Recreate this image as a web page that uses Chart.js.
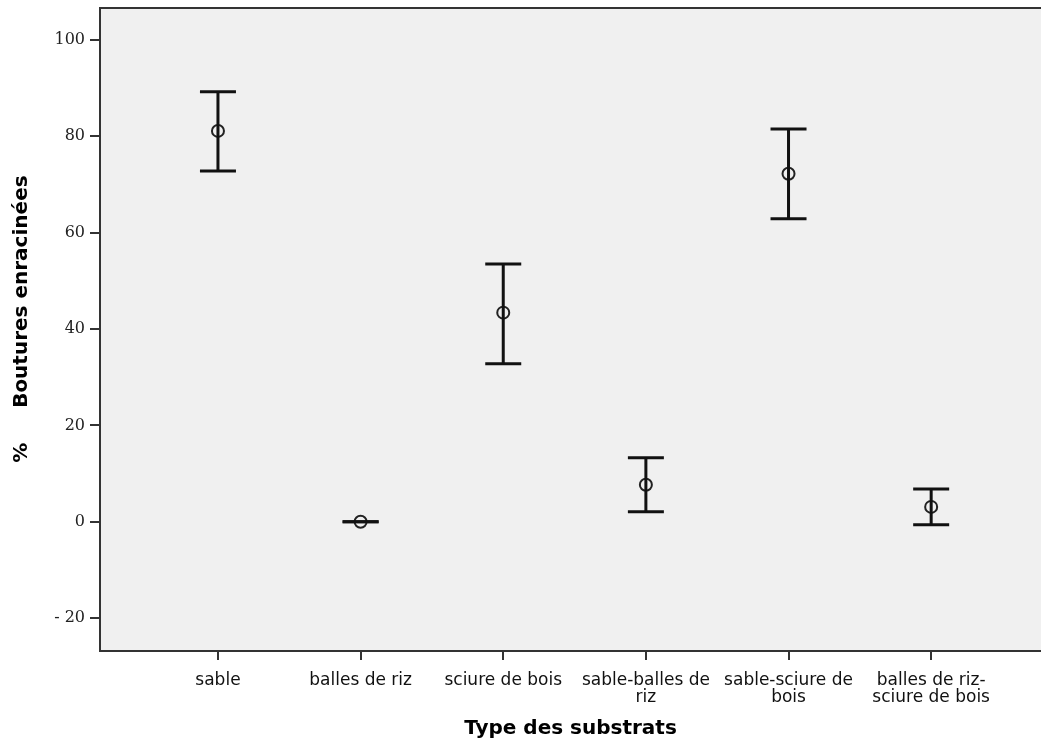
<!DOCTYPE html>
<html>
<head>
<meta charset="utf-8">
<script src="https://cdn.jsdelivr.net/npm/chart.js@4"></script>
<style>
    html, body { margin: 0; padding: 0; background: #ffffff; }
    #wrap { width: 1041px; height: 745px; }
</style>
</head>
<body>
<div id="wrap"><canvas id="chart" width="1041" height="745"></canvas></div>
<script>
// Chart data
const categories = ['sable', 'balles de riz', 'sciure de bois', 'sable-balles de riz', 'sable-sciure de bois', 'balles de riz-sciure de bois'];
const tickLabels = [['sable'], ['balles de riz'], ['sciure de bois'], ['sable-balles de', 'riz'], ['sable-sciure de', 'bois'], ['balles de riz-', 'sciure de bois']];
const means = [81.1, 0, 43.4, 7.7, 72.2, 3.1];
const upper = [89.2, 0, 53.5, 13.3, 81.5, 6.8];
const lower = [72.8, 0, 32.8, 2.1, 62.9, -0.6];
const yTicks = [-20, 0, 20, 40, 60, 80, 100];

const ink = '#111111';

// vertical whiskers, split by nulls
const whiskers = [];
categories.forEach((c, i) => {
    whiskers.push({ x: i, y: lower[i] });
    whiskers.push({ x: i, y: upper[i] });
    whiskers.push({ x: i, y: null });
});
const caps = [];
categories.forEach((c, i) => {
    caps.push({ x: i, y: lower[i] });
    caps.push({ x: i, y: upper[i] });
});

// grey plot background + top frame line
const plotBackground = {
    id: 'plotBackground',
    beforeDraw(chart) {
        const { ctx, chartArea: a } = chart;
        ctx.save();
        ctx.fillStyle = '#f0f0f0';
        ctx.fillRect(a.left, a.top, a.right - a.left, a.bottom - a.top);
        ctx.strokeStyle = '#333333';
        ctx.lineWidth = 2;
        ctx.beginPath();
        ctx.moveTo(a.left, a.top);
        ctx.lineTo(a.right, a.top);
        ctx.stroke();
        ctx.restore();
    }
};

new Chart(document.getElementById('chart'), {
    type: 'scatter',
    data: {
        datasets: [
            {
                label: 'whiskers',
                data: whiskers,
                showLine: true,
                spanGaps: false,
                borderColor: ink,
                borderWidth: 3,
                pointRadius: 0
            },
            {
                label: 'caps',
                data: caps,
                pointStyle: 'line',
                pointRadius: 18,
                pointBorderWidth: 3,
                borderColor: ink
            },
            {
                label: 'means',
                data: means.map((m, i) => ({ x: i, y: m })),
                pointStyle: 'circle',
                pointRadius: 6,
                pointBorderWidth: 2,
                borderColor: '#222222',
                backgroundColor: 'rgba(0,0,0,0)'
            }
        ]
    },
    options: {
        responsive: false,
        animation: false,
        events: [],
        layout: { autoPadding: false, padding: { top: 8, left: 0, right: 0, bottom: 0 } },
        plugins: {
            legend: { display: false },
            tooltip: { enabled: false }
        },
        scales: {
            x: {
                type: 'linear',
                min: -0.827,
                max: 5.77,
                afterFit: (scale) => {
                    scale.height = 94;
                    scale.paddingLeft = 0;
                    scale.paddingRight = 0;
                },
                afterBuildTicks: (scale) => { scale.ticks = categories.map((c, i) => ({ value: i })); },
                border: { display: true, color: '#333333', width: 2 },
                grid: { drawOnChartArea: false, drawTicks: true, tickLength: 9, color: '#333333', lineWidth: 2 },
                ticks: {
                    autoSkip: false,
                    maxRotation: 0,
                    padding: 12,
                    color: '#111111',
                    font: { family: 'DejaVu Sans', size: 17, lineHeight: 1.0 },
                    callback: (v) => tickLabels[v]
                },
                title: {
                    display: true,
                    text: 'Type des substrats',
                    color: '#000000',
                    font: { family: 'DejaVu Sans', size: 20, weight: 'bold' },
                    padding: { top: 0, bottom: 4 }
                }
            },
            y: {
                min: -26.8,
                max: 106.6,
                afterFit: (scale) => {
                    scale.width = 100;
                    scale.paddingTop = 0;
                    scale.paddingBottom = 0;
                },
                afterBuildTicks: (scale) => { scale.ticks = yTicks.map(v => ({ value: v })); },
                border: { display: true, color: '#333333', width: 2 },
                grid: { drawOnChartArea: false, drawTicks: true, tickLength: 10, color: '#333333', lineWidth: 2 },
                ticks: {
                    padding: 5,
                    color: '#222222',
                    font: { family: 'DejaVu Serif', size: 16 },
                    callback: (v) => v < 0 ? '- ' + Math.abs(v) : String(v)
                },
                title: {
                    display: true,
                    text: '   %     Boutures enracinées',
                    color: '#000000',
                    font: { family: 'DejaVu Sans', size: 20, weight: 'bold' },
                    padding: { top: 10, bottom: 0 }
                }
            }
        }
    },
    plugins: [plotBackground]
});
</script>
</body>
</html>
